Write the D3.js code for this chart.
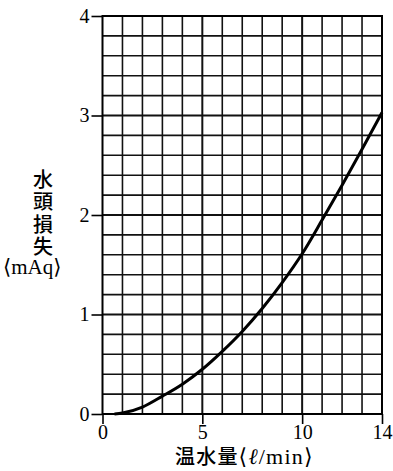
<!DOCTYPE html>
<html><head><meta charset="utf-8">
<script src="https://cdn.jsdelivr.net/npm/d3@7"></script>
<style>body{margin:0;background:#fff}svg{display:block}</style>
</head><body>
<svg id="c" width="393" height="471"></svg>
<script>
const flowX = [0.6, 1, 2, 3, 4, 5, 6, 7, 8, 9, 10, 11, 12, 13, 14];
const headLossY = [0, 0.01, 0.07, 0.18, 0.3, 0.45, 0.63, 0.83, 1.06, 1.32, 1.61, 1.95, 2.3, 2.66, 3.03];
const xTicks = [0, 5, 10, 14];
const yTicks = [0, 1, 2, 3, 4];
const yLabel = ["水", "頭", "損", "失"];
const yUnit = "mAq";
const xLabel = "温水量";
const xUnitL = "ℓ";
const xUnitR = "/min";

const svg = d3.select("#c");
const L = 102.5, R = 382, T = 16, B = 414;
const x = d3.scaleLinear().domain([0, 14]).range([L, R]);
const y = d3.scaleLinear().domain([0, 4]).range([B, T]);

const g = svg.append("g");
// grid
d3.range(1, 14).forEach(v => {
  g.append("line").attr("x1", x(v)).attr("x2", x(v)).attr("y1", y(0)).attr("y2", y(4))
    .attr("stroke", "#111").attr("stroke-width", v % 5 === 0 ? 2 : 1.6);
});
d3.range(1, 20).forEach(i => {
  const v = i * 0.2;
  g.append("line").attr("x1", x(0)).attr("x2", x(14)).attr("y1", y(v)).attr("y2", y(v))
    .attr("stroke", "#111").attr("stroke-width", i % 5 === 0 ? 2 : 1.6);
});
// frame
g.append("rect").attr("x", x(0)).attr("y", y(4)).attr("width", x(14) - x(0)).attr("height", y(0) - y(4))
  .attr("fill", "none").attr("stroke", "#000").attr("stroke-width", 2);

// axes
const serif = "'Liberation Serif','Times New Roman',serif";
const yAxis = d3.axisLeft(y).tickValues(yTicks).tickSize(11).tickPadding(2).tickFormat(d3.format("d"));
const ya = svg.append("g").attr("transform", `translate(${x(0)},0)`).call(yAxis);
ya.select(".domain").remove();
ya.selectAll("line").attr("stroke", "#000").attr("stroke-width", 1.6);
ya.selectAll("text").attr("font-family", serif).attr("font-size", 20).attr("fill", "#000");

const xAxis = d3.axisBottom(x).tickValues(xTicks).tickSize(10).tickPadding(1).tickFormat(d3.format("d"));
const xa = svg.append("g").attr("transform", `translate(0,${y(0)})`).call(xAxis);
xa.select(".domain").remove();
xa.selectAll("line").attr("stroke", "#000").attr("stroke-width", 1.6);
xa.selectAll("text").attr("font-family", serif).attr("font-size", 20).attr("fill", "#000");

// curve
const pts = flowX.map((v, i) => [v, headLossY[i]]);
svg.append("path").datum(pts)
  .attr("d", d3.line().x(d => x(d[0])).y(d => y(d[1])).curve(d3.curveMonotoneX))
  .attr("fill", "none").attr("stroke", "#000").attr("stroke-width", 3);

// y label (vertical)
const cjk = "'Noto Sans CJK JP','Noto Sans CJK SC',sans-serif";
const br = "'DejaVu Sans','Noto Sans',sans-serif";
const yt = svg.append("text").attr("x", 43).attr("y", 169)
  .attr("writing-mode", "vertical-rl")
  .attr("font-family", cjk).attr("font-size", 20).attr("font-weight", 500);
yLabel.forEach((c, i) => yt.append("tspan").attr("dy", i === 0 ? 0 : 2.5).text(c));
const yu = svg.append("text").attr("x", 3).attr("y", 274).attr("font-size", 21);
yu.append("tspan").attr("font-family", br).text("⟨");
yu.append("tspan").attr("font-family", serif).text(yUnit);
yu.append("tspan").attr("font-family", br).text("⟩");

// x label
const xl = svg.append("text").attr("x", 175).attr("y", 464).attr("font-size", 20).attr("letter-spacing", 1.2);
xl.append("tspan").attr("font-family", cjk).attr("font-weight", 500).text(xLabel);
xl.append("tspan").attr("font-family", br).attr("font-size", 22).text("⟨");
xl.append("tspan").attr("font-family", serif).attr("font-style", "italic").attr("font-size", 22).text(xUnitL);
xl.append("tspan").attr("font-family", serif).attr("font-size", 22).text(xUnitR);
xl.append("tspan").attr("font-family", br).attr("font-size", 22).text("⟩");
</script>
</body></html>
